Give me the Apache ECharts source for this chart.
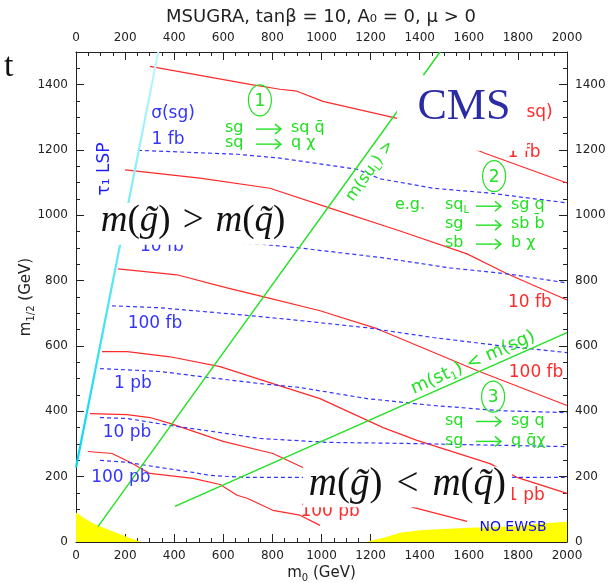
<!DOCTYPE html>
<html>
<head>
<meta charset="utf-8">
<title>MSUGRA, tanβ = 10</title>
<script src="https://cdn.jsdelivr.net/npm/echarts@6/dist/echarts.min.js"></script>
<style>
  html, body { margin: 0; padding: 0; background: #fff; }
  #chart { width: 609px; height: 583px; }
</style>
</head>
<body>
<div id="chart"></div>
<script>
// mSUGRA (m0, m1/2) plane, tanβ = 10, A0 = 0, μ > 0

// axis ticks (GeV)
const m0Ticks = [0, 200, 400, 600, 800, 1000, 1200, 1400, 1600, 1800, 2000];
const m12Ticks = [0, 200, 400, 600, 800, 1000, 1200, 1400];

// σ(sq) contours, solid red: [m0, m1/2]
const sq1fb   = [[301,1456],[709,1401],[831,1386],[900,1380],[1006,1349],[1308,1297],[1666,1190],[2000,1099]];
const sq10fb  = [[200,1139],[505,1114],[790,1083],[1035,1022],[1320,952],[1593,882],[1756,821],[2000,741]];
const sq100fb = [[171,836],[411,818],[615,778],[778,748],[994,708],[1226,653],[1633,525],[2000,418]];
const sq1pb   = [[106,583],[208,583],[383,567],[587,537],[802,485],[994,439],[1251,350],[1389,311],[1686,240],[1796,198],[2000,149]];
const sq10pb  = [[57,393],[208,390],[301,381],[383,363],[599,308],[802,271],[933,225],[1373,106],[1593,63]];
const sq100pb = [[49,277],[147,271],[220,244],[301,210],[477,195],[587,176],[656,143],[697,134],[802,97],[912,82],[994,51]];

// σ(sg) contours, dashed blue
const sg1fb   = [[253,1199],[656,1187],[831,1175],[1145,1141],[1238,1112],[1454,1083],[1686,1068],[2000,1038]];
const sg10fb  = [[187,924],[505,918],[749,912],[912,900],[1251,870],[1523,839],[1756,821],[2000,793]];
const sg100fb = [[147,723],[342,717],[709,693],[912,678],[1185,656],[1454,626],[1727,601],[2000,580]];
const sg1pb   = [[98,531],[342,522],[546,503],[749,485],[912,473],[1185,439],[1454,418],[1727,402],[2000,396]];
const sg10pb  = [[98,381],[208,378],[383,357],[615,332],[749,317],[1022,305],[1320,302],[2000,292]];
const sg100pb = [[98,250],[208,244],[342,228],[477,213],[546,204],[680,198],[2000,198]];

// mass-ordering boundaries, green
const suLBoundary = [[90,48],[1483,1500]];
const st1Boundary = [[403,109],[2000,641]];

// stau LSP boundary, cyan
const stauLSP = [[0,228],[335,1500]];

// no electroweak symmetry breaking, yellow
const noEwsbLow  = [[0,90],[30,75],[70,57],[138,36],[208,15],[265,0]];
const noEwsbHigh = [[1180,0],[1250,12],[1320,28],[1400,36],[1500,40],[1600,44],[1700,46],[1800,48],[1880,56],[2000,62]];

const RED = '#ff2a2a', BLUE = '#3434ff', GREEN = '#22e022', INK = '#222';
const SANS = 'DejaVu Sans', SERIF = 'Liberation Serif';

const chart = echarts.init(document.getElementById('chart'), null, { renderer: 'canvas' });

function curve(data, color, dashed) {
  return {
    type: 'line', data, symbol: 'none', showSymbol: false, animation: false, silent: true, z: 3,
    lineStyle: { color, width: 1.2, type: dashed ? [4, 3] : 'solid' }
  };
}
function area(data) {
  return {
    type: 'line', data, symbol: 'none', showSymbol: false, animation: false, silent: true, z: 1,
    lineStyle: { width: 0 }, areaStyle: { color: '#ffff00', opacity: 1 }
  };
}

const tickStyle = { color: INK, width: 1 };
function axis(extra, ticks, max) {
  return Object.assign({
    type: 'value', min: 0, max, interval: 200,
    axisLine: { show: true, onZero: false, lineStyle: tickStyle },
    axisTick: { show: true, inside: true, length: 8, lineStyle: tickStyle },
    minorTick: { show: true, splitNumber: 4, length: 4, lineStyle: tickStyle },
    splitLine: { show: false }, minorSplitLine: { show: false },
    axisLabel: {
      color: INK, fontSize: 12, fontFamily: SANS,
      formatter: v => ticks.indexOf(v) >= 0 ? String(v) : ''
    }
  }, extra);
}

const nameStyle = {
  color: INK, fontSize: 15, fontFamily: SANS,
  rich: { s: { fontSize: 10, fontFamily: SANS, color: INK, padding: [9, 0, 0, 0] } }
};

chart.setOption({
  backgroundColor: '#fff',
  animation: false,
  grid: { left: 76, right: 42, top: 52, bottom: 41, containLabel: false, outerBoundsMode: 'none' },
  xAxis: [
    axis({ position: 'bottom', name: 'm{s|0} (GeV)', nameLocation: 'middle', nameGap: 22,
           nameMoveOverlap: false, nameTextStyle: nameStyle }, m0Ticks, 2000),
    axis({ position: 'top' }, m0Ticks, 2000)
  ],
  yAxis: [
    axis({ position: 'left', name: 'm{s|1/2} (GeV)', nameLocation: 'middle', nameGap: 40,
           nameMoveOverlap: false, nameTextStyle: nameStyle }, m12Ticks, 1500),
    axis({ position: 'right' }, m12Ticks, 1500)
  ],
  series: [
    area(noEwsbLow), area(noEwsbHigh),
    curve(sq1fb, RED), curve(sq10fb, RED), curve(sq100fb, RED),
    curve(sq1pb, RED), curve(sq10pb, RED), curve(sq100pb, RED),
    curve(sg1fb, BLUE, true), curve(sg10fb, BLUE, true), curve(sg100fb, BLUE, true),
    curve(sg1pb, BLUE, true), curve(sg10pb, BLUE, true), curve(sg100pb, BLUE, true),
    Object.assign(curve(suLBoundary, GREEN), { lineStyle: { color: GREEN, width: 1.4 } }),
    Object.assign(curve(st1Boundary, GREEN), { lineStyle: { color: GREEN, width: 1.4 } }),
    Object.assign(curve(stauLSP, '#00dcf0'), {
      lineStyle: {
        width: 2.2,
        color: new echarts.graphic.LinearGradient(0, 0, 0, 1, [
          { offset: 0, color: '#c4f6ff' }, { offset: 1, color: '#00d8f0' }
        ])
      }
    })
  ]
});

// ---- annotations, anchored in (m0, m1/2) coordinates ----
const px = (x, y) => chart.convertToPixel({ xAxisIndex: 0, yAxisIndex: 0 }, [x, y]);

function label(X, Y, text, fill, opts) {
  const p = px(X, Y);
  const o = opts || {};
  return {
    type: 'text', x: p[0], y: p[1], rotation: o.rotation || 0, z: o.z || 40,
    style: Object.assign({
      text, fill, fontSize: o.size || 17, fontFamily: o.family || SANS,
      align: o.align || 'center', verticalAlign: 'middle'
    }, o.style || {})
  };
}
function whiteBox(x0, y0, x1, y1) {
  const a = px(x0, y0), b = px(x1, y1);
  return { type: 'rect', z: 60, shape: { x: a[0], y: b[1], width: b[0] - a[0], height: a[1] - b[1] },
           style: { fill: '#fff' } };
}
function circled(X, Y, n) {
  const p = px(X, Y);
  return [
    { type: 'ellipse', z: 40, shape: { cx: p[0], cy: p[1], rx: 11.5, ry: 15.5 },
      style: { fill: 'none', stroke: GREEN, lineWidth: 1.2 } },
    { type: 'text', z: 40, x: p[0], y: p[1] + 1,
      style: { text: n, fill: GREEN, fontSize: 17, fontFamily: SANS, align: 'center', verticalAlign: 'middle' } }
  ];
}
const greenRich = {
  n: { fontSize: 16, fontFamily: SANS, fill: GREEN },
  s: { fontSize: 10, fontFamily: SANS, fill: GREEN, padding: [10, 0, 0, 0] }
};
function reaction(X, Y, lhs, rhs) {
  const p = px(X, Y), x = p[0], y = p[1];
  const t = (tx, text) => ({ type: 'text', z: 40, x: tx, y,
    style: { text, fill: GREEN, fontSize: 16, fontFamily: SANS, align: 'left', verticalAlign: 'middle', rich: greenRich } });
  return [
    t(x, lhs),
    { type: 'polyline', z: 40, shape: { points: [[x + 31, y + 1], [x + 56, y + 1]] },
      style: { stroke: GREEN, lineWidth: 1.4, fill: 'none' } },
    { type: 'polyline', z: 40, shape: { points: [[x + 50, y - 4], [x + 56, y + 1], [x + 50, y + 6]] },
      style: { stroke: GREEN, lineWidth: 1.4, fill: 'none' } },
    t(x + 66, rhs)
  ];
}
function slopeAngle(line) {
  const a = px(line[0][0], line[0][1]), b = px(line[1][0], line[1][1]);
  return Math.atan2(a[1] - b[1], b[0] - a[0]);
}
function latexRich(size, gap) {
  return {
    i: { fontFamily: SERIF, fontStyle: 'italic', fontSize: size, fill: '#111' },
    r: { fontFamily: SERIF, fontSize: size, fill: '#111' },
    rel: { fontFamily: SERIF, fontSize: size, fill: '#111', padding: [0, gap, 0, gap] }
  };
}

const g = [];
// red σ(sq) labels
g.push(label(1853, 1316, 'σ(sq)', RED));
g.push(label(1825, 1193, '1 fb', RED));
g.push(label(1849, 733, '10 fb', RED));
g.push(label(1874, 519, '100 fb', RED));
g.push(label(1833, 143, '1 pb', RED));
g.push(label(1035, 94, '100 pb', RED));
// blue σ(sg) labels
g.push(label(395, 1313, 'σ(sg)', BLUE));
g.push(label(375, 1233, '1 fb', BLUE));
g.push(label(350, 903, '10 fb', BLUE));
g.push(label(322, 668, '100 fb', BLUE));
g.push(label(232, 485, '1 pb', BLUE));
g.push(label(208, 335, '10 pb', BLUE));
g.push(label(183, 198, '100 pb', BLUE));
g.push(label(118, 1142, 'τ₁ LSP', '#1e1eff', { rotation: Math.PI / 2 }));
g.push(label(1780, 45, 'NO EWSB', '#1010ee', { size: 14 }));
// boundary labels along the green lines
g.push(label(1198, 1136, '{n|m(su}{s|L}{n|) >}', GREEN, { rotation: slopeAngle(suLBoundary), style: { rich: greenRich } }));
g.push(label(1617, 549, '{n|m(st}{s|1}{n|) < m(sg)}', GREEN,
  { rotation: slopeAngle(st1Boundary), style: { rich: { n: { fontSize: 18, fontFamily: SANS, fill: GREEN },
    s: { fontSize: 11, fontFamily: SANS, fill: GREEN, padding: [10, 0, 0, 0] } } } }));
// decay regions
g.push(...circled(749, 1352, '1'));
g.push(...reaction(607, 1267, 'sg', 'sq q̄'));
g.push(...reaction(607, 1221, 'sq', 'q χ'));
g.push(...circled(1703, 1120, '2'));
g.push(label(1299, 1031, 'e.g.', GREEN, { size: 16, align: 'left' }));
g.push(...reaction(1503, 1031, '{n|sq}{s|L}', 'sg q'));
g.push(...reaction(1503, 973, 'sg', 'sb b̄'));
g.push(...reaction(1503, 915, 'sb', 'b χ'));
g.push(...circled(1699, 445, '3'));
g.push(...reaction(1503, 372, 'sq', 'sg q'));
g.push(...reaction(1503, 311, 'sg', 'q q̄χ'));
// overlaid headings on white panels
g.push(whiteBox(1307, 1198, 1837, 1429));
g.push(label(1580, 1331, 'CMS', '#2b2ba6', { size: 44, family: SERIF, z: 61 }));
g.push(whiteBox(77, 910, 880, 1038));
g.push(label(477, 982, '{i|m}{r|(}{i|g̃}{r|)}{rel|>}{i|m}{r|(}{i|q̃}{r|)}', '#111',
  { z: 61, style: { rich: latexRich(37, 12) } }));
g.push(whiteBox(925, 106, 1776, 231));
g.push(label(1350, 175, '{i|m}{r|(}{i|g̃}{r|)}{rel|<}{i|m}{r|(}{i|q̃}{r|)}', '#111',
  { z: 61, style: { rich: latexRich(39, 14) } }));

// title and the clipped glyph at the upper left
g.push({ type: 'text', z: 40, x: 321, y: 17,
  style: { text: 'MSUGRA, tanβ = 10, A₀ = 0, μ > 0', fill: INK, fontSize: 18, fontFamily: SANS,
           align: 'center', verticalAlign: 'middle' } });
g.push({ type: 'text', z: 40, x: 4, y: 84,
  style: { text: 't', fill: '#111', fontSize: 34, fontFamily: SERIF, align: 'left', verticalAlign: 'bottom' } });

chart.setOption({ graphic: { elements: g } });
</script>
</body>
</html>
